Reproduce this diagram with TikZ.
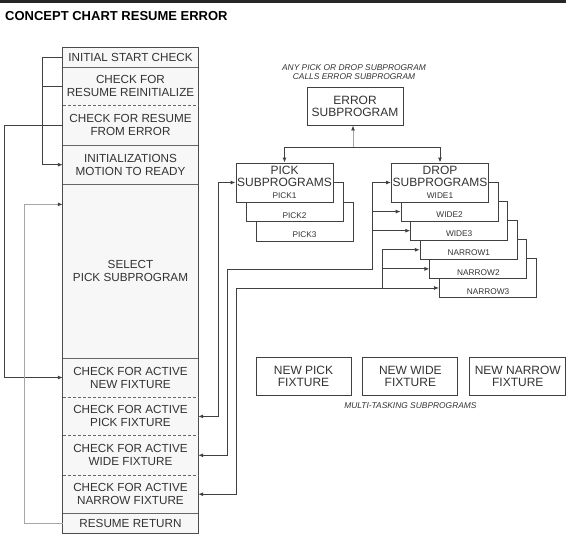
\documentclass[tikz,border=0pt]{standalone}
\usepackage{fontspec}
\setmainfont{Liberation Sans}
\usetikzlibrary{positioning, calc, arrows.meta}

\newcommand{\tagsize}{\fontsize{8.3}{9}\selectfont}

\begin{document}
\begin{tikzpicture}[x=1pt, y=-1pt, node distance=0pt,
        every node/.style={inner sep=0pt, text=black!80},
        row/.style={font=\fontsize{11.7}{13}\selectfont, align=center, minimum width=135pt, fill=black!3},
        box/.style={font=\fontsize{12}{12}\selectfont, align=center, draw=black!75, fill=white, line width=0.9pt, minimum width=97pt, minimum height=39pt},
        tag/.style={font=\tagsize},
        note/.style={font=\fontsize{8.4}{9}\selectfont\itshape, align=center},
        conn/.style={draw=black!75, line width=0.9pt},
        arr/.style={conn, -{Latex[length=5pt,width=4pt]}},
        grayarr/.style={conn, draw=black!35, -{Latex[length=5pt,width=4pt,color=black!75]}},
        both/.style={conn, {Latex[length=5pt,width=4pt]}-{Latex[length=5pt,width=4pt]}}]
        \useasboundingbox (0,0) rectangle (572,544);

        \draw[line width=3pt, black!85] (0,1.5) -- (566,1.5);
        \node[anchor=base west, font=\fontsize{13}{13}\selectfont\bfseries, text=black] (title) at (5,20) {CONCEPT CHART RESUME ERROR};

        % main sequence
        \node[row, minimum height=19pt] (r1) at (130.5,57.5) {INITIAL START CHECK};
        \node[row, minimum height=38pt, below=of r1] (r2) {CHECK FOR\\RESUME REINITIALIZE};
        \node[row, minimum height=39pt, below=of r2] (r3) {CHECK FOR RESUME\\FROM ERROR};
        \node[row, minimum height=39pt, below=of r3] (r4) {INITIALIZATIONS\\MOTION TO READY};
        \node[row, minimum height=173pt, below=of r4] (r5) {SELECT\\PICK SUBPROGRAM};
        \node[row, minimum height=39pt, below=of r5] (r6) {CHECK FOR ACTIVE\\NEW FIXTURE};
        \node[row, minimum height=38pt, below=of r6] (r7) {CHECK FOR ACTIVE\\PICK FIXTURE};
        \node[row, minimum height=39pt, below=of r7] (r8) {CHECK FOR ACTIVE\\WIDE FIXTURE};
        \node[row, minimum height=38pt, below=of r8] (r9) {CHECK FOR ACTIVE\\NARROW FIXTURE};
        \node[row, minimum height=20pt, below=of r9] (r10) {RESUME RETURN};

        \draw[black!70, line width=0.9pt] (r1.north west) rectangle (r10.south east);
        \foreach \r/\s in {r1/solid, r2/densely dashed, r3/solid, r4/thick, r5/solid, r6/densely dashed, r7/densely dashed, r8/densely dashed, r9/solid} {
            \draw[black!60, \s] (\r.south west) -- (\r.south east);
        }

        % error subprogram
        \node[note] (anote) at (354,72) {ANY PICK OR DROP SUBPROGRAM\\CALLS ERROR SUBPROGRAM};
        \node[box, minimum width=96pt, minimum height=38pt] (err) at (355,106) {ERROR\\SUBPROGRAM};

        % pick stack
        \foreach \i/\t in {2/PICK3, 1/PICK2} {
            \node[box, label={[tag, anchor=south, yshift=3.5pt]south:\t}] (p\i) at ($(284.5,182.5)+(\i*10,\i*19.5)$) {};
        }
        \node[box] (p0) at (284.5,182.5) {PICK\\SUBPROGRAMS\\\tagsize PICK1};

        % drop stack
        \foreach \i/\t in {5/NARROW3, 4/NARROW2, 3/NARROW1, 2/WIDE3, 1/WIDE2} {
            \node[box, label={[tag, anchor=south, yshift=3.5pt]south:\t}] (d\i) at ($(440,182.5)+(\i*9.6,\i*19.1)$) {};
            \coordinate (d\i-in) at ($(d\i.south west)!0.25!(d\i.north west)$);
        }
        \node[box] (d0) at (440,182.5) {DROP\\SUBPROGRAMS\\\tagsize WIDE1};

        \coordinate (bus) at (353,147);
        \draw[both] (p0.north) -- (p0.north |- bus) -| (d0.north);
        \draw[grayarr] (bus) -- (err.south -| bus);

        % loops on the left
        \draw[arr] (r1.west) -- ++(-20,0) |- (r4.west);
        \draw[conn] (r2.west) -- ++(-20,0);
        \draw[arr] (r3.west) -- ++(-58,0) |- (r6.west);
        \coordinate (back) at ($(r5.north west)+(0,20)$);
        \draw[grayarr] (r10.west) -- ++(-38,0) |- (back);

        % fixtures to subprograms
        \draw[both] (r7.east) -- ++(20,0) |- (p0.west);
        \coordinate (wbus) at (372,269);
        \draw[both] (r8.east) -- ++(29,0) |- (wbus) |- (d0.west);
        \foreach \i in {1,2} {
            \draw[arr] (wbus |- d\i-in) -- (d\i-in);
        }
        \coordinate (nbus) at (382,288.4);
        \draw[both] (r9.east) -- ++(38,0) |- (d5-in);
        \foreach \i in {3,4} {
            \draw[arr] (nbus) |- (d\i-in);
        }

        % multi-tasking
        \node[box, minimum width=95pt, minimum height=38pt] (npk) at (303.5,376) {NEW PICK\\FIXTURE};
        \node[box, minimum width=95pt, minimum height=38pt, right=11pt of npk] (nwd) {NEW WIDE\\FIXTURE};
        \node[box, minimum width=96pt, minimum height=38pt, right=11pt of nwd] (nnr) {NEW NARROW\\FIXTURE};
        \node[note, below=7pt of nwd] (mnote) {MULTI-TASKING SUBPROGRAMS};
\end{tikzpicture}
\end{document}
